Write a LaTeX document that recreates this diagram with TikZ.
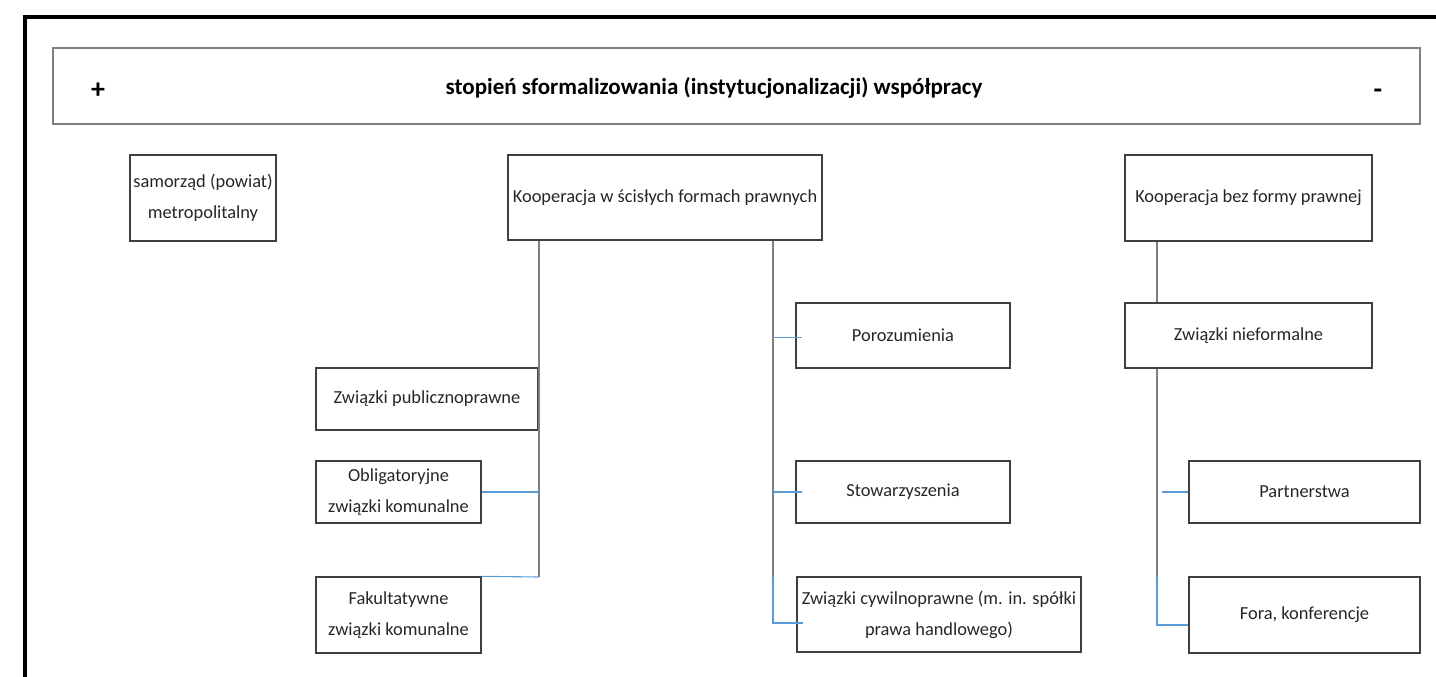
\documentclass[tikz,border=0pt]{standalone}
\usepackage{fontspec}
\setmainfont{Carlito}
\begin{document}
\begin{tikzpicture}[x=1pt,y=-1pt]
\definecolor{lblue}{HTML}{5B9BD5}
\definecolor{lgray}{HTML}{7F7F7F}
\tikzset{
  box/.style={draw=black!75, line width=1.3pt, inner sep=0pt, align=center, font=\fontsize{18.4}{31}\selectfont, text=black!85},
  conn/.style={draw=lgray, line width=1.8pt},
  bconn/.style={draw=lblue, line width=1.1pt},
  sign/.style={font=\fontsize{28}{30}\selectfont\bfseries, inner sep=0pt},
}
\useasboundingbox (0,0) rectangle (1436,677);
% outer frame
\draw[line width=3.5pt, line cap=rect] (25,720) -- (25,17) -- (1460,17);
% title box
\node[draw=black!50, line width=1.3pt, minimum width=1367pt, minimum height=76pt, inner sep=0pt] (title) at (736.5,86) {};
\node[font=\fontsize{23}{26}\selectfont\bfseries, inner sep=0pt] (ttext) at (714,88) {stopień sformalizowania (instytucjonalizacji) współpracy};
\node[sign] (plus) at (98,90.5) {+};
\node[sign] (minus) at (1378,94) {-};
% top row
\node[box, minimum width=146pt, minimum height=86pt] (sam) at (203,198) {samorząd (powiat)\\metropolitalny};
\node[box, minimum width=314pt, minimum height=85pt] (kws) at (665,197.5) {Kooperacja w ścisłych formach prawnych};
\node[box, minimum width=247pt, minimum height=86pt] (kbf) at (1248.5,198) {Kooperacja bez formy prawnej};
% left column
\node[box, minimum width=222pt, minimum height=62pt] (zpub) at (427,399) {Związki publicznoprawne};
\node[box, minimum width=165pt, minimum height=62pt] (obl) at (398.5,492) {Obligatoryjne\\związki komunalne};
\node[box, minimum width=165pt, minimum height=76pt] (fak) at (398.5,615) {Fakultatywne\\związki komunalne};
% middle column
\node[box, minimum width=214pt, minimum height=65pt] (por) at (903,335.5) {Porozumienia};
\node[box, minimum width=214pt, minimum height=62pt] (sto) at (903,492) {Stowarzyszenia};
\node[box, minimum width=284pt, minimum height=75pt] (zcyw) at (939,614.5) {Związki cywilnoprawne (m. in. spółki\\prawa handlowego)};
% right column
\node[box, minimum width=247pt, minimum height=65pt] (znf) at (1248.5,335.5) {Związki nieformalne};
\node[box, minimum width=231pt, minimum height=62pt] (par) at (1304.5,492) {Partnerstwa};
\node[box, minimum width=231pt, minimum height=76pt] (for) at (1304.5,615) {Fora, konferencje};
% connectors
\coordinate (l1) at (539,577);
\coordinate (m1) at (773,577);
\coordinate (m2) at (773,623);
\coordinate (r1) at (1157,577);
\coordinate (r2) at (1157,625);
\draw[conn] (kws.south -| l1) -- (l1);
\draw[bconn] (obl.east) -- (obl.east -| l1);
\draw[bconn] (fak.north east) -- (l1);
\draw[conn] (kws.south -| m1) -- (m1);
\draw[bconn] (m1) -- (m2) -- ([xshift=7pt]m2 -| zcyw.west);
\draw[bconn] ([yshift=-2pt]por.west -| m1) -- ([xshift=7pt,yshift=-2pt]por.west);
\draw[bconn] (sto.west -| m1) -- ([xshift=7pt]sto.west);
\draw[conn] (kbf.south -| r1) -- (znf.north -| r1);
\draw[conn] (znf.south -| r1) -- (r1);
\draw[bconn] (r1) -- (r2) -- (r2 -| for.west);
\draw[bconn] ([xshift=5pt]par.west -| r1) -- (par.west);
\end{tikzpicture}
\end{document}
